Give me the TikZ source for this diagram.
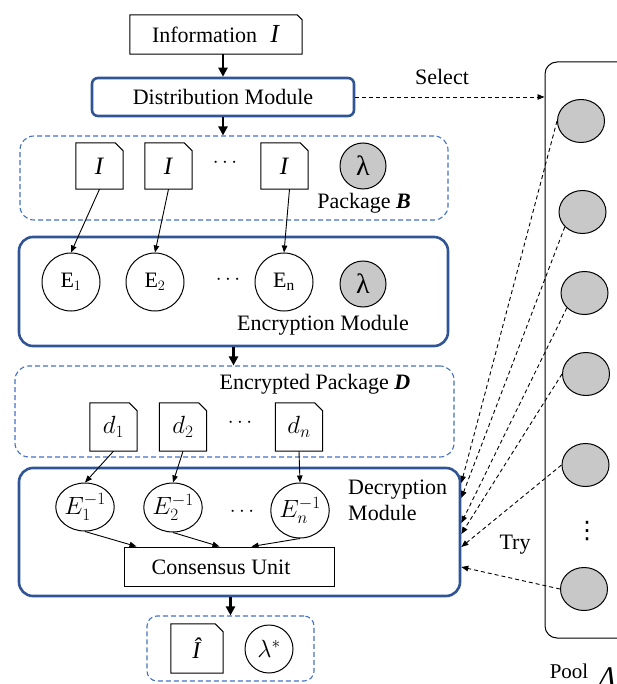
\documentclass[tikz,border=0pt]{standalone}
\usepackage{fontspec}
\setmainfont{Liberation Serif}
\newfontfamily\dejavu{DejaVu Sans}
\usetikzlibrary{arrows.meta,calc,shapes.geometric}
\definecolor{mblue}{HTML}{2F5597}
\definecolor{dblue}{HTML}{4472C4}
\definecolor{cgray}{HTML}{C8C8C8}
\newcommand{\dogear}[2]{\draw[line width=1pt] (#1.south west) -- (#1.north west) -- ([xshift=-#2]#1.north east) -- ([yshift=-#2]#1.north east) -- (#1.south east) -- cycle;}
\newcommand{\docfnt}{\fontsize{25}{28}\selectfont}
\begin{document}
\begin{tikzpicture}[x=1pt,y=-1pt, font=\fontsize{22}{26}\selectfont,
  every node/.style={inner sep=0pt},
  module/.style={draw=mblue, line width=2.6pt, rounded corners=14pt},
  dbox/.style={draw=dblue, line width=1.1pt, dash pattern=on 5pt off 3pt, rounded corners=14pt},
  docbox/.style={rectangle, minimum width=47pt, minimum height=46pt},
  encirc/.style={circle, draw, line width=1pt, minimum size=58pt},
  lam/.style={circle, draw, fill=cgray, line width=1pt, minimum size=46pt},
  inv/.style={ellipse, draw, line width=1pt},
  pc/.style={ellipse, draw, fill=cgray, line width=1pt, minimum width=47pt, minimum height=43pt},
  thinarr/.style={-{Triangle[length=7pt,width=5.5pt]}, line width=0.9pt},
  flowarr/.style={-{Triangle[length=9pt,width=9pt]}, line width=2.4pt},
  tryarr/.style={-{Triangle[length=7pt,width=5.5pt]}, line width=0.9pt, dash pattern=on 4pt off 3pt},
]
\useasboundingbox (0,0) rectangle (616,684);

% ---------- top ----------
\node[rectangle, minimum width=172pt, minimum height=39pt] (info) at (216,34.5)
  {Information\hspace{0.6em}{\fontsize{26}{28}\selectfont\textit{I}}};
\dogear{info}{5pt}
\node[module, rounded corners=6pt, minimum width=262pt, minimum height=38pt] (dist) at (223,97) {Distribution Module};
\draw[flowarr] (info.south -| dist.north) -- (dist.north);

% ---------- package B ----------
\node[dbox, minimum width=428pt, minimum height=84pt] (pkgB) at (234,178) {};
\draw[flowarr] (dist.south) -- (dist.south |- pkgB.north);
\node[docbox] (I1) at (99.5,166) {\docfnt\textit{I}};
\node[docbox] (I2) at (168.5,166) {\docfnt\textit{I}};
\node[docbox] (I3) at (284.5,166) {\docfnt\textit{I}};
\dogear{I1}{8pt}\dogear{I2}{8pt}\dogear{I3}{8pt}
\node (dotsB) at (225,163) {$\cdots$};
\node[lam] (lamB) at (363,166) {\fontsize{28}{30}\selectfont λ};
\node (pkgBtxt) at (364,203) {Package \textbf{\textit{B}}};

% ---------- encryption ----------
\node[module, minimum width=429pt, minimum height=109pt] (enc) at (233.5,291.5) {};
\node[encirc] (E1) at (71,282) {$\mathrm{E}_1$};
\node[encirc] (E2) at (155,282) {$\mathrm{E}_2$};
\node[encirc] (En) at (284,282) {$\mathrm{E}_\mathrm{n}$};
\node (dotsE) at (228,280) {$\cdots$};
\node[lam] (lamE) at (363,284) {\fontsize{28}{30}\selectfont λ};
\node (enctxt) at (323,325) {Encryption Module};
\draw[thinarr] (I1.south) -- (E1.north);
\draw[thinarr] (I2.south) -- (E2.north);
\draw[thinarr] ($(I3.south)+(5,0)$) -- (En.north);

% ---------- package D ----------
\node[dbox, minimum width=439pt, minimum height=91pt] (pkgD) at (234.5,411.5) {};
\draw[flowarr] (enc.south) -- (enc.south |- pkgD.north);
\node (pkgDtxt) at (315,384) {Encrypted Package \textbf{\textit{D}}};
\node[docbox, minimum height=48pt] (d1) at (113.5,427) {\docfnt$d_1$};
\node[docbox, minimum height=48pt] (d2) at (183,427) {\docfnt$d_2$};
\node[docbox, minimum height=48pt] (dn) at (299,427) {\docfnt$d_n$};
\dogear{d1}{8pt}\dogear{d2}{8pt}\dogear{dn}{8pt}
\node (dotsD) at (240,423) {$\cdots$};

% ---------- decryption ----------
\node[module, minimum width=441pt, minimum height=128pt] (dec) at (239.5,532) {};
\node[inv, minimum width=55pt, minimum height=48pt] (Ei1) at (85,507) {\fontsize{24}{26}\selectfont$E_1^{-1}$};
\node[inv, minimum width=58pt, minimum height=49pt] (Ei2) at (173,507.5) {\fontsize{24}{26}\selectfont$E_2^{-1}$};
\node[inv, minimum width=54pt, minimum height=55pt] (Ein) at (300,510.5) {\fontsize{24}{26}\selectfont$E_n^{-1}$};
\node (dotsI) at (242,512) {$\cdots$};
\node[anchor=west, align=left, font=\fontsize{22}{26}\selectfont] (dectxt) at (348,500) {Decryption\\Module};
\node[rectangle, draw, line width=1pt, minimum width=210pt, minimum height=39pt] (cons) at (229,566.5) {};
\node (constxt) at (221,567) {Consensus Unit};
\draw[thinarr] (d1.south) -- (Ei1.north);
\draw[thinarr] (d2.south) -- (Ei2.north);
\draw[thinarr] (dn.south) -- (Ein.north);
\draw[thinarr] (Ei1.south) -- ($(cons.north west)+(13,0)$);
\draw[thinarr] (Ei2.south) -- ($(cons.north west)+(96,0)$);
\draw[thinarr] (Ein.south) -- ($(cons.north west)+(128,0)$);

% ---------- output ----------
\node[dbox, rounded corners=10pt, minimum width=167pt, minimum height=65pt] (out) at (230.5,648.5) {};
\draw[flowarr] (out.north |- dec.south) -- (out.north);
\node[docbox, minimum width=52pt, minimum height=49pt] (Ihat) at (197,648.5) {\fontsize{24}{26}\selectfont\textit{Î}};
\dogear{Ihat}{8pt}
\node[circle, draw, line width=1pt, minimum size=48pt] (lamS) at (269,649) {\fontsize{24}{26}\selectfont$\lambda^*$};

% ---------- pool ----------
\node[draw, line width=1pt, rounded corners=12pt, minimum width=115pt, minimum height=576pt] (pool) at (602.5,350) {};
\node[pc] (c1) at (581,121) {};
\node[pc] (c2) at (582.5,212) {};
\node[pc] (c3) at (584.5,293) {};
\node[pc] (c4) at (586,374) {};
\node[pc] (c5) at (585.5,465) {};
\node[pc] (c6) at (584,589) {};
\node (vdots) at (587,531) {\dejavu\fontsize{24}{26}\selectfont ⋮};
\node[anchor=base] (pooltxt) at (569,678) {\fontsize{21}{24}\selectfont Pool};
\node[anchor=base west] (poolsym) at (598,687) {\fontsize{30}{32}\selectfont\textit{Λ}};
\node (seltxt) at (442,77) {Select};
\node (trytxt) at (515,545) {Try};
\draw[tryarr] (dist.east) -- (dist.east -| pool.west);
\draw[tryarr] (c1.west) -- ($(dec.east)+(0,-49)$);
\draw[tryarr] (c2.220) -- ($(dec.east)+(0,-34)$);
\draw[tryarr] (c3.220) -- ($(dec.east)+(0,-9)$);
\draw[tryarr] (c4.west) -- ($(dec.east)+(0,2)$);
\draw[tryarr] (c5.west) -- ($(dec.east)+(0,15)$);
\draw[tryarr] (c6.west) -- ($(dec.east)+(0,35)$);
\end{tikzpicture}
\end{document}
